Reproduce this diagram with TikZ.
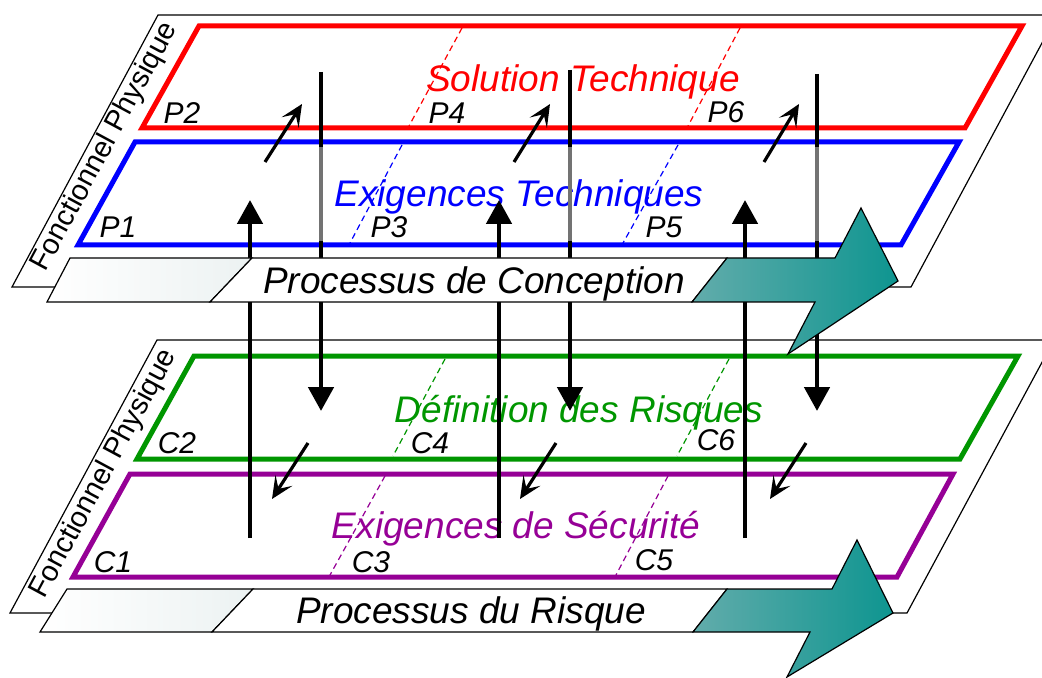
\documentclass[tikz,border=0pt]{standalone}
\usepackage{tikz}
\usetikzlibrary{positioning, shapes.geometric, arrows.meta}
\usepackage{xcolor}
\usepackage{fontspec}
\setmainfont{Liberation Sans}
\definecolor{riskgreen}{RGB}{0,150,0}
\definecolor{secpurple}{RGB}{150,0,150}
\definecolor{tealL}{RGB}{98,172,171}
\definecolor{tealR}{RGB}{14,149,144}
\definecolor{paleband}{RGB}{236,242,242}

\begin{document}
\begin{tikzpicture}[x=0.5pt, y=-0.5pt]
\tikzstyle{panel} = [draw, fill=white, line width=0.6pt]
\tikzstyle{frame} = [draw, line width=2.5pt]
\tikzstyle{divider} = [draw, line width=0.6pt, dash pattern=on 3pt off 2pt]
\tikzstyle{title} = [font=\fontsize{18.5}{20}\selectfont\itshape, anchor=base, inner sep=0pt]
\tikzstyle{lbl} = [font=\fontsize{15}{17}\selectfont\itshape, anchor=base, inner sep=0pt]
\tikzstyle{side} = [font=\fontsize{14.5}{16}\selectfont, rotate=61.7, inner sep=0pt]
\tikzstyle{bigline} = [draw, line width=2.4pt, -{Triangle[length=12pt,width=12.5pt]}]
\tikzstyle{shadeline} = [draw, line width=2.4pt, black!55]
\tikzstyle{smallline} = [draw, line width=1.6pt, -{Stealth[length=11pt,width=10pt,inset=5pt]}]
\tikzstyle{band} = [draw, line width=0.6pt, line join=miter]

\useasboundingbox (0,0) rectangle (1042,678);
\clip (0,0) rectangle (1042,678);

% conception layer
\path[panel] (12,287) -- (158,15) -- (1057,15) -- (911,287) -- cycle;
\path[frame, red] (199,26) -- (1022,26) -- (965,128) -- (142,128) -- cycle;
\path[frame, blue] (135,142) -- (959,142) -- (901,245) -- (78,245) -- cycle;
\path[divider, red] (462,28) -- (409,126);
\path[divider, red] (740,28) -- (688,126);
\path[divider, blue] (402,145) -- (350,243);
\path[divider, blue] (678,145) -- (623,243);

\node (solution) [title, red] at (583,92) {Solution Technique};
\node (exigtech) [title, blue] at (519,207) {Exigences Techniques};
\node (p2) [lbl] at (182,124) {P2};
\node (p4) [lbl] at (447,124) {P4};
\node (p6) [lbl] at (726,123) {P6};
\node (p1) [lbl] at (118,238) {P1};
\node (p3) [lbl] at (389,238) {P3};
\node (p5) [lbl] at (664,238) {P5};
\node (sidetop) [side] at (105,147) {Fonctionnel Physique};

% risk layer
\path[panel] (10,613) -- (157,340) -- (1054,340) -- (907,613) -- cycle;
\path[frame, riskgreen] (194,356) -- (1018,356) -- (960,459) -- (137,459) -- cycle;
\path[frame, secpurple] (130,474) -- (953,474) -- (897,577) -- (73,577) -- cycle;
\path[divider, riskgreen] (445,359) -- (393,456);
\path[divider, riskgreen] (729,359) -- (677,456);
\path[divider, secpurple] (385,476) -- (330,575);
\path[divider, secpurple] (668,476) -- (616,575);

\node (definition) [title, riskgreen] at (579,422) {Définition des Risques};
\node (exigsecu) [title, secpurple] at (516,538) {Exigences de Sécurité};
\node (c2) [lbl] at (177,453) {C2};
\node (c4) [lbl] at (430,453) {C4};
\node (c6) [lbl] at (716,450) {C6};
\node (c1) [lbl] at (113,572) {C1};
\node (c3) [lbl] at (371,572) {C3};
\node (c5) [lbl] at (654,570) {C5};
\node (sidebot) [side] at (104,474) {Fonctionnel Physique};

% links between the layers
\foreach \n/\x in {1/250, 2/499, 3/745} {
  \coordinate (upA\n) at (\x,538);
  \coordinate (upB\n) at (\x,200);
  \path[bigline] (upA\n) -- (upB\n);
}
\foreach \n/\x/\y in {1/321/72, 2/570/70, 3/817/74} {
  \coordinate (dnA\n) at (\x,\y);
  \coordinate (dnB\n) at (\x,411);
  \coordinate (dnC\n) at (\x,147);
  \coordinate (dnD\n) at (\x,241);
  \path[bigline] (dnA\n) -- (dnB\n);
  \path[shadeline] (dnC\n) -- (dnD\n);
}
\foreach \n/\xa/\xb in {1/265/302, 2/514/550, 3/764/799} {
  \coordinate (riseA\n) at (\xa,162);
  \coordinate (riseB\n) at (\xb,104);
  \path[smallline] (riseA\n) -- (riseB\n);
}
\foreach \n/\xa/\xb in {1/308/272, 2/556/520, 3/806/770} {
  \coordinate (fallA\n) at (\xa,443);
  \coordinate (fallB\n) at (\xb,499);
  \path[smallline] (fallA\n) -- (fallB\n);
}

% process bands
\draw[band, left color=white, right color=paleband] (47,302) -- (70,258) -- (252,258) -- (210,302) -- cycle;
\draw[band, fill=white] (210,302) -- (252,258) -- (727,258) -- (692,302) -- cycle;
\draw[band, left color=tealL, right color=tealR] (692,302) -- (727,258) -- (835,258) -- (861,208) -- (898,281) -- (788,354) -- (815,302) -- cycle;
\node (conception) [title] at (474,293) {Processus de Conception};

\draw[band, left color=white, right color=paleband] (40,632) -- (67,589) -- (253,589) -- (212,632) -- cycle;
\draw[band, fill=white] (212,632) -- (253,589) -- (727,589) -- (693,632) -- cycle;
\draw[band, left color=tealL, right color=tealR] (693,632) -- (727,589) -- (832,589) -- (857,540) -- (893,613) -- (787,677) -- (810,632) -- cycle;
\node (risque) [title] at (471,623) {Processus du Risque};
\end{tikzpicture}
\end{document}
